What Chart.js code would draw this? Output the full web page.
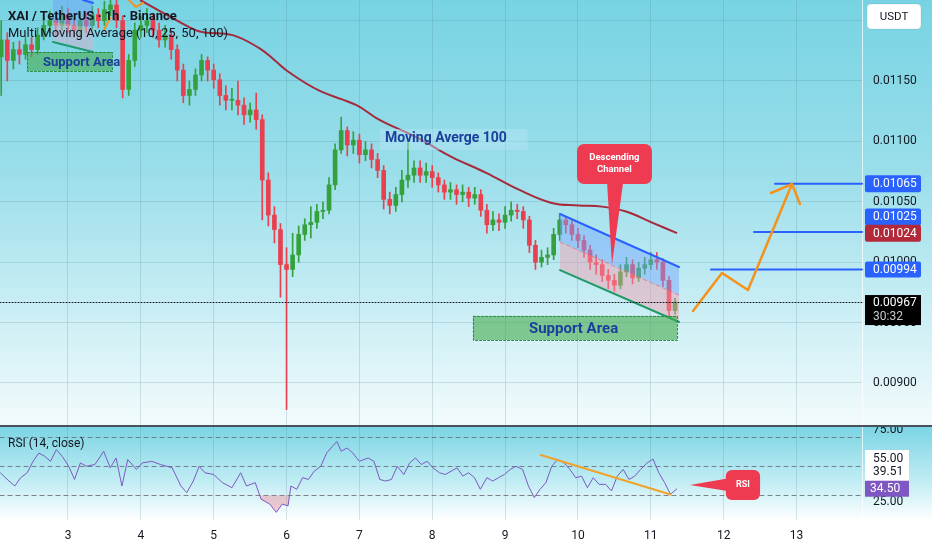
<!DOCTYPE html>
<html>
<head>
<meta charset="utf-8">
<title>XAI / TetherUS 1h</title>
<script src="https://cdn.jsdelivr.net/npm/chart.js@4.4.1/dist/chart.umd.min.js"></script>
<style>
  body { margin: 0; background: #fff; font-family: Roboto, "Liberation Sans", sans-serif; }
  #wrap { position: relative; width: 932px; height: 550px; overflow: hidden; }
  #pricePane { position: absolute; left: 0; top: 0; width: 932px; height: 426px;
    background: linear-gradient(to bottom, #77d3e3 0%, #9adeea 40%, #cdeff5 75%, #f3fbfc 100%); }
  #sep { position: absolute; left: 0; top: 425px; width: 932px; height: 2px; background: #46525c; }
  #rsiPane { position: absolute; left: 0; top: 427px; width: 932px; height: 123px;
    background: linear-gradient(to bottom, #7cd5e4 0%, #c2edf4 45%, #ffffff 76%, #ffffff 100%); }
  .legend { position: absolute; left: 8px; color: #131722; font-size: 13px; line-height: 16px; white-space: nowrap; }
</style>
</head>
<body>
<div id="wrap">
  <div id="pricePane"><canvas id="priceChart" width="932" height="426"></canvas></div>
  <div id="sep"></div>
  <div id="rsiPane"><canvas id="rsiChart" width="932" height="123"></canvas></div>
  <div class="legend" style="top:8px;font-weight:bold">XAI / TetherUS · 1h · Binance</div>
  <div class="legend" style="top:25px">Multi Moving Average (10, 25, 50, 100)</div>
  <div class="legend" style="top:435px;font-size:12px">RSI (14, close)</div>
</div>
<script>
// time axis is day of month, candles are 2h apart
const candleStart = 2 + 1 / 12;
const candleStep = 1 / 12;
const firstOpen = 0.01170;

const closes = [
  0.01184, 0.01167, 0.01176, 0.01172, 0.01180, 0.01176, 0.01188, 0.01196, 0.01200, 0.01196,
  0.01205, 0.01196, 0.01192, 0.01200, 0.01196, 0.01205, 0.01200, 0.01209, 0.01213, 0.01200,
  0.01143, 0.01167, 0.01192, 0.01196, 0.01200, 0.01192, 0.01184, 0.01188, 0.01176, 0.01159,
  0.01138, 0.01143, 0.01155, 0.01167, 0.01159, 0.01151, 0.01138, 0.01134, 0.01134, 0.01130,
  0.01122, 0.01126, 0.01118, 0.01068, 0.01039, 0.01027, 0.00998, 0.00994, 0.01006, 0.01023,
  0.01031, 0.01033, 0.01042, 0.01043, 0.01064, 0.01093, 0.01109, 0.01097, 0.01101, 0.01089,
  0.01093, 0.01085, 0.01076, 0.01052, 0.01047, 0.01056, 0.01068, 0.01072, 0.01078, 0.01072,
  0.01075, 0.01070, 0.01064, 0.01058, 0.01060, 0.01056, 0.01058, 0.01053, 0.01056, 0.01043,
  0.01031, 0.01035, 0.01033, 0.01039, 0.01043, 0.01042, 0.01035, 0.01014, 0.01000, 0.01004,
  0.01006, 0.01023, 0.01035, 0.01031, 0.01023, 0.01018, 0.01010, 0.01000, 0.00998, 0.00989,
  0.00985, 0.00981, 0.00992, 0.00998, 0.00987, 0.00995, 0.00998, 0.01002, 0.01000, 0.00985,
  0.00960, 0.00967
];
const highs = [
  0.01200, 0.01190, 0.01182, 0.01183, 0.01186, 0.01186, 0.01194, 0.01202, 0.01208, 0.01206,
  0.01212, 0.01210, 0.01202, 0.01206, 0.01206, 0.01212, 0.01210, 0.01216, 0.01220, 0.01218,
  0.01204, 0.01172, 0.01198, 0.01204, 0.01210, 0.01206, 0.01198, 0.01196, 0.01192, 0.01180,
  0.01164, 0.01150, 0.01160, 0.01172, 0.01170, 0.01164, 0.01156, 0.01146, 0.01144, 0.01150,
  0.01136, 0.01132, 0.01140, 0.01122, 0.01074, 0.01046, 0.01032, 0.01012, 0.01024, 0.01030,
  0.01036, 0.01046, 0.01048, 0.01050, 0.01070, 0.01098, 0.01120, 0.01112, 0.01108, 0.01106,
  0.01100, 0.01098, 0.01090, 0.01080, 0.01058, 0.01062, 0.01076, 0.01099, 0.01084, 0.01084,
  0.01082, 0.01080, 0.01074, 0.01068, 0.01066, 0.01064, 0.01064, 0.01062, 0.01062, 0.01060,
  0.01048, 0.01042, 0.01040, 0.01046, 0.01050, 0.01048, 0.01046, 0.01038, 0.01018, 0.01010,
  0.01012, 0.01028, 0.01040, 0.01038, 0.01034, 0.01028, 0.01022, 0.01014, 0.01006, 0.01002,
  0.00994, 0.00990, 0.00998, 0.01004, 0.01002, 0.01000, 0.01004, 0.01008, 0.01008, 0.01003,
  0.00988, 0.00970
];
const lows = [
  0.01138, 0.01150, 0.01160, 0.01164, 0.01168, 0.01170, 0.01172, 0.01184, 0.01190, 0.01188,
  0.01192, 0.01190, 0.01186, 0.01188, 0.01190, 0.01192, 0.01194, 0.01196, 0.01204, 0.01194,
  0.01136, 0.01138, 0.01162, 0.01186, 0.01190, 0.01186, 0.01178, 0.01178, 0.01168, 0.01150,
  0.01132, 0.01130, 0.01138, 0.01150, 0.01150, 0.01144, 0.01130, 0.01126, 0.01126, 0.01122,
  0.01114, 0.01116, 0.01110, 0.01035, 0.01030, 0.01016, 0.00971, 0.00878, 0.00988, 0.01000,
  0.01018, 0.01020, 0.01028, 0.01036, 0.01040, 0.01060, 0.01090, 0.01088, 0.01090, 0.01082,
  0.01084, 0.01078, 0.01070, 0.01044, 0.01040, 0.01042, 0.01050, 0.01062, 0.01066, 0.01066,
  0.01066, 0.01062, 0.01058, 0.01052, 0.01052, 0.01048, 0.01050, 0.01046, 0.01048, 0.01038,
  0.01024, 0.01026, 0.01026, 0.01028, 0.01034, 0.01036, 0.01028, 0.01008, 0.00994, 0.00996,
  0.00998, 0.01002, 0.01018, 0.01024, 0.01018, 0.01012, 0.01004, 0.00994, 0.00990, 0.00984,
  0.00978, 0.00976, 0.00978, 0.00988, 0.00982, 0.00984, 0.00990, 0.00994, 0.00994, 0.00980,
  0.00955, 0.00957
];

// MA 100
const maTimes = [3.99, 4.53, 4.81, 5.26, 5.63, 5.84, 6.04, 6.45, 6.96, 7.27, 7.73, 7.92, 8.27, 8.74, 9.19, 9.64, 10.01, 10.33, 10.66, 11.01, 11.36];
const maValues = [0.01217, 0.01199, 0.01191, 0.01188, 0.01177, 0.01167, 0.01157, 0.01142, 0.01130, 0.01118, 0.01105, 0.01099, 0.01087, 0.01074, 0.01060, 0.01049, 0.01047, 0.01046, 0.01042, 0.01033, 0.01024];

// RSI (14)
const rsiTimes = [
  2.07, 2.19, 2.27, 2.35, 2.44, 2.52, 2.60, 2.68, 2.76, 2.84, 2.92, 3.01, 3.09, 3.17, 3.25, 3.37, 3.49, 3.58, 3.66, 3.74,
  3.82, 3.94, 4.02, 4.15, 4.27, 4.43, 4.55, 4.63, 4.72, 4.80, 4.88, 5.00, 5.12, 5.25, 5.37, 5.45, 5.57, 5.65, 5.77, 5.86,
  5.94, 6.02, 6.06, 6.14, 6.22, 6.30, 6.38, 6.47, 6.55, 6.63, 6.69, 6.75, 6.83, 6.91, 7.00, 7.12, 7.20, 7.28, 7.36, 7.44,
  7.52, 7.61, 7.69, 7.77, 7.85, 7.93, 8.01, 8.10, 8.18, 8.26, 8.34, 8.42, 8.50, 8.58, 8.66, 8.75, 8.83, 8.91, 8.99, 9.07,
  9.15, 9.24, 9.32, 9.40, 9.48, 9.56, 9.64, 9.72, 9.81, 9.89, 9.97, 10.05, 10.13, 10.21, 10.29, 10.38, 10.46, 10.54, 10.62, 10.70,
  10.78, 10.86, 10.95, 11.03, 11.11, 11.19, 11.27, 11.36
];
const rsiValues = [
  45.5, 39.8, 36.4, 42.1, 45.5, 53.4, 59.1, 56.9, 53.4, 61.4, 56.9, 50.0, 40.9, 52.3, 50.0, 51.2, 60.3, 48.9, 55.7, 36.4,
  54.6, 47.8, 52.3, 53.4, 51.2, 48.9, 36.4, 31.8, 39.8, 50.0, 45.5, 44.3, 38.7, 35.2, 45.5, 36.4, 38.7, 27.3, 23.9, 18.2,
  23.9, 22.7, 36.4, 34.1, 42.1, 40.9, 46.6, 50.0, 59.1, 63.7, 67.1, 60.3, 62.6, 59.1, 53.4, 55.7, 53.4, 40.9, 39.8, 40.9,
  50.0, 44.3, 52.3, 55.7, 51.2, 53.4, 48.9, 45.5, 44.3, 46.6, 48.9, 43.2, 45.5, 42.1, 34.1, 42.1, 39.8, 42.1, 44.3, 47.8,
  50.0, 47.8, 36.4, 28.4, 34.1, 38.7, 50.0, 54.6, 52.3, 47.8, 42.1, 43.2, 35.2, 42.1, 37.5, 37.5, 33.0, 43.2, 47.8, 40.9,
  43.2, 47.8, 52.3, 55.0, 45.5, 38.7, 30.7, 34.5
];

const dayTicks = [3, 4, 5, 6, 7, 8, 9, 10, 11, 12, 13];
const priceTicks = [0.0090, 0.0095, 0.0100, 0.0105, 0.0110, 0.0115, 0.0120];
const rsiTicks = [25, 75];
const rsiLevels = [70, 50, 30];
const lastPrice = 0.00967;
const ma100Last = 0.01024;
const targetLevels = [0.01065, 0.01025, 0.00994];
const rsiLast = 34.50;
const rsiSecond = 39.51;
const rsiThird = 55.00;

const GREEN = '#35a13d';
const RED = '#e9404f';
const BLUE = '#2962ff';
const ORANGE = '#f5921b';
const CALLOUT = '#ef3b52';
const NOTE_BLUE = '#1b3f9b';
const GRID = 'rgba(80,130,145,0.22)';
const FONT = 'Roboto, "Liberation Sans", sans-serif';

Chart.defaults.font.family = FONT;
Chart.defaults.color = '#131722';

const xMin = 2.0666, xMax = 13.8992;

const candleTimes = closes.map((c, i) => candleStart + i * candleStep);
const opens = closes.map((c, i) => i === 0 ? firstOpen : closes[i - 1]);
const candleColors = closes.map((c, i) => c >= opens[i] ? GREEN : RED);
const bodies = closes.map((c, i) => ({ x: candleTimes[i], y: [opens[i], c] }));
const wicks = closes.map((c, i) => ({ x: candleTimes[i], y: [lows[i], highs[i]] }));
const maPoints = maTimes.map((t, i) => ({ x: t, y: maValues[i] }));
const rsiPoints = rsiTimes.map((t, i) => ({ x: t, y: rsiValues[i] }));

function path(ctx, pts) {
  ctx.beginPath();
  pts.forEach((p, i) => i ? ctx.lineTo(p[0], p[1]) : ctx.moveTo(p[0], p[1]));
}
function fillPoly(ctx, pts, color) {
  path(ctx, pts);
  ctx.closePath();
  ctx.fillStyle = color;
  ctx.fill();
}
function strokePath(ctx, pts, color, width, dash) {
  path(ctx, pts);
  ctx.strokeStyle = color;
  ctx.lineWidth = width;
  ctx.lineJoin = 'round';
  ctx.lineCap = 'round';
  ctx.setLineDash(dash || []);
  ctx.stroke();
  ctx.setLineDash([]);
}
function label(ctx, text, x, y, font, color, align) {
  ctx.font = font;
  ctx.fillStyle = color;
  ctx.textAlign = align || 'center';
  ctx.textBaseline = 'middle';
  ctx.fillText(text, x, y);
}
function supportBox(ctx, x0, y0, x1, y1) {
  ctx.fillStyle = 'rgba(70,172,78,0.6)';
  ctx.fillRect(x0, y0, x1 - x0, y1 - y0);
  ctx.strokeStyle = 'rgba(30,130,50,0.9)';
  ctx.lineWidth = 1;
  ctx.setLineDash([2, 2]);
  ctx.strokeRect(x0 + 0.5, y0 + 0.5, x1 - x0, y1 - y0);
  ctx.setLineDash([]);
}
function axisTag(ctx, x, cy, w, h, bg, text, fg) {
  ctx.fillStyle = bg;
  ctx.beginPath();
  ctx.roundRect(x, cy - h / 2, w, h, 2);
  ctx.fill();
  label(ctx, text, x + 8, cy + 0.5, '12px ' + FONT, fg, 'left');
}
// no label padding around the plot, panes must fill their boxes
function noPad(s) {
  s.paddingTop = 0; s.paddingBottom = 0; s.paddingLeft = 0; s.paddingRight = 0;
}

const priceOverlay = {
  id: 'priceOverlay',
  afterDatasetsDraw(chart) {
    const { ctx, scales: { x, y } } = chart;
    const P = (t, p) => [x.getPixelForValue(t), y.getPixelForValue(p)];
    ctx.save();

    // small channel, top left
    fillPoly(ctx, [P(2.794, 0.01217), P(3.343, 0.01217), P(3.343, 0.011939), P(2.794, 0.011988)], 'rgba(110,160,250,0.45)');
    fillPoly(ctx, [P(2.794, 0.011988), P(3.343, 0.011939), P(3.343, 0.011740), P(2.794, 0.011823)], 'rgba(205,180,205,0.55)');
    strokePath(ctx, [P(2.794, 0.011823), P(3.343, 0.011740)], '#1e9c70', 2);
    strokePath(ctx, [P(3.206, 0.01217), P(3.343, 0.012146)], BLUE, 2);
    strokePath(ctx, [P(3.494, 0.011922), P(3.577, 0.012022)], ORANGE, 2);
    strokePath(ctx, [P(3.837, 0.01217), P(3.933, 0.012113), P(4.030, 0.012146)], ORANGE, 2);

    // support area, top left
    let a = P(2.437, 0.011740), b = P(3.604, 0.011583);
    supportBox(ctx, a[0], a[1], b[0], b[1]);
    let c = P(2.657, 0.011655);
    label(ctx, 'Support Area', c[0], c[1], 'bold 13px ' + FONT, NOTE_BLUE, 'left');

    // descending channel
    const up0 = P(9.754, 0.010399), up1 = P(11.387, 0.009960);
    const md0 = P(9.754, 0.010167), md1 = P(11.387, 0.009728);
    const lo0 = P(9.754, 0.009935), lo1 = P(11.387, 0.009505);
    fillPoly(ctx, [up0, up1, md1, md0], 'rgba(115,165,255,0.45)');
    fillPoly(ctx, [md0, md1, lo1, lo0], 'rgba(245,155,172,0.45)');
    strokePath(ctx, [md0, md1], 'rgba(232,110,130,0.8)', 1, [4, 3]);
    strokePath(ctx, [up0, up1], BLUE, 2);
    strokePath(ctx, [lo0, lo1], '#1f9a66', 2);

    // support area under the channel
    a = P(8.559, 0.009555); b = P(11.360, 0.009356);
    supportBox(ctx, a[0], a[1], b[0], b[1]);
    c = P(9.94, 0.009446);
    label(ctx, 'Support Area', c[0], c[1], 'bold 15px ' + FONT, NOTE_BLUE);

    // callout
    a = P(9.987, 0.010978); b = P(11.016, 0.010647);
    ctx.fillStyle = CALLOUT;
    ctx.beginPath();
    ctx.roundRect(a[0], a[1], b[0] - a[0], b[1] - a[1], 7);
    ctx.fill();
    fillPoly(ctx, [P(10.40, 0.010660), P(10.62, 0.010660), P(10.467, 0.009977)], CALLOUT);
    c = P(10.50, 0.010863);
    label(ctx, 'Descending', c[0], c[1], 'bold 9.5px ' + FONT, '#fff');
    c = P(10.50, 0.010763);
    label(ctx, 'Channel', c[0], c[1], 'bold 9.5px ' + FONT, '#fff');

    // moving average note
    a = P(7.28, 0.011103); b = P(9.31, 0.010929);
    ctx.fillStyle = 'rgba(185,228,245,0.45)';
    ctx.fillRect(a[0], a[1], b[0] - a[0], b[1] - a[1]);
    c = P(7.351, 0.011020);
    label(ctx, 'Moving Averge 100', c[0], c[1], 'bold 14px ' + FONT, NOTE_BLUE, 'left');

    // target levels
    const right = chart.chartArea.right;
    [[12.705, targetLevels[0]], [12.417, targetLevels[1]], [11.826, targetLevels[2]]].forEach(([t, p]) => {
      const s = P(t, p);
      strokePath(ctx, [s, [right, s[1]]], BLUE, 2);
    });

    // projected path
    strokePath(ctx, [P(11.579, 0.009596), P(11.977, 0.009911), P(12.334, 0.009770), P(12.938, 0.010647)], ORANGE, 2.5);
    strokePath(ctx, [P(12.650, 0.010573), P(12.938, 0.010647), P(13.048, 0.010482)], ORANGE, 2.5);

    // last price
    const ly = Math.round(y.getPixelForValue(lastPrice)) + 0.5;
    strokePath(ctx, [[0, ly], [right, ly]], '#131722', 1, [1, 2]);
    ctx.restore();
  },
  afterDraw(chart) {
    const { ctx, scales: { y }, chartArea } = chart;
    const ax = chartArea.right + 3;
    ctx.save();
    axisTag(ctx, ax, y.getPixelForValue(targetLevels[0]), 56, 17, BLUE, '0.01065', '#fff');
    axisTag(ctx, ax, y.getPixelForValue(targetLevels[1]) - 15, 56, 17, BLUE, '0.01025', '#fff');
    axisTag(ctx, ax, y.getPixelForValue(ma100Last), 56, 17, '#b22a3a', '0.01024', '#fff');
    axisTag(ctx, ax, y.getPixelForValue(targetLevels[2]), 56, 16, BLUE, '0.00994', '#fff');
    const top = y.getPixelForValue(lastPrice) - 7;
    ctx.fillStyle = '#000';
    ctx.fillRect(ax, top, 56, 30);
    label(ctx, '0.00967', ax + 8, top + 8, '12px ' + FONT, '#fff', 'left');
    label(ctx, '30:32', ax + 8, top + 22, '12px ' + FONT, '#c8c8c8', 'left');
    // currency box
    ctx.fillStyle = '#fff';
    ctx.strokeStyle = 'rgba(0,0,0,0.08)';
    ctx.beginPath();
    ctx.roundRect(chartArea.right + 5, 4, 54, 25, 4);
    ctx.fill();
    ctx.stroke();
    label(ctx, 'USDT', chartArea.right + 32, 17, '11.5px ' + FONT, '#131722');
    ctx.restore();
  }
};

const rsiOverlay = {
  id: 'rsiOverlay',
  beforeDatasetsDraw(chart) {
    const { ctx, scales: { y }, chartArea } = chart;
    ctx.save();
    rsiLevels.forEach(v => {
      const py = Math.round(y.getPixelForValue(v)) + 0.5;
      strokePath(ctx, [[chartArea.left, py], [chartArea.right, py]], 'rgba(100,110,120,0.85)', 1, [4, 4]);
    });
    ctx.restore();
  },
  afterDatasetsDraw(chart) {
    const { ctx, scales: { x, y } } = chart;
    const P = (t, v) => [x.getPixelForValue(t), y.getPixelForValue(v)];
    ctx.save();
    strokePath(ctx, [P(9.49, 57.8), P(11.27, 30.5)], '#f0a22a', 2);
    const a = P(12.03, 47.4), b = P(12.50, 26.7);
    ctx.fillStyle = CALLOUT;
    ctx.beginPath();
    ctx.roundRect(a[0], a[1], b[0] - a[0], b[1] - a[1], 6);
    ctx.fill();
    fillPoly(ctx, [P(12.05, 41.5), P(12.05, 33.0), P(11.538, 37.1)], CALLOUT);
    const c = P(12.265, 37.1);
    label(ctx, 'RSI', c[0], c[1], 'bold 9px ' + FONT, '#fff');
    ctx.restore();
  },
  afterDraw(chart) {
    const { ctx, scales: { y }, chartArea } = chart;
    const ax = chartArea.right + 3;
    ctx.save();
    const y55 = y.getPixelForValue(rsiThird);
    ctx.fillStyle = '#fff';
    ctx.fillRect(ax, y55 - 9, 44, 36);
    label(ctx, rsiThird.toFixed(2), chartArea.right + 11, y55, '12px ' + FONT, '#131722', 'left');
    label(ctx, rsiSecond.toFixed(2), chartArea.right + 11, y.getPixelForValue(rsiSecond) - 9, '12px ' + FONT, '#131722', 'left');
    const yl = y.getPixelForValue(rsiLast);
    ctx.fillStyle = '#7e57c2';
    ctx.fillRect(ax, yl - 8, 44, 16);
    label(ctx, rsiLast.toFixed(2), chartArea.right + 8, yl + 0.5, '12px ' + FONT, '#fff', 'left');
    ctx.restore();
  }
};

const dayAxis = (showLabels) => ({
  type: 'linear',
  min: xMin,
  max: xMax,
  offset: false,
  afterBuildTicks: s => { s.ticks = dayTicks.map(v => ({ value: v })); },
  afterFit: s => { s.height = showLabels ? 30 : 0; noPad(s); },
  grid: { color: GRID, drawTicks: false, offset: false },
  border: { display: false },
  ticks: { display: showLabels, padding: 9, font: { size: 12 }, color: '#131722', maxRotation: 0, callback: v => String(v) }
});

new Chart(document.getElementById('priceChart'), {
  type: 'bar',
  data: {
    datasets: [
      { type: 'line', data: maPoints, borderColor: '#a52a3c', borderWidth: 2, pointRadius: 0, tension: 0.4, order: 0 },
      { data: bodies, backgroundColor: candleColors, barThickness: 4, minBarLength: 1, grouped: false, borderWidth: 0, order: 1 },
      { data: wicks, backgroundColor: candleColors, barThickness: 1, grouped: false, borderWidth: 0, order: 2 }
    ]
  },
  options: {
    responsive: false,
    animation: false,
    events: [],
    layout: { padding: 0 },
    plugins: { legend: { display: false }, tooltip: { enabled: false } },
    scales: {
      x: dayAxis(false),
      y: {
        position: 'right',
        min: 0.008644,
        max: 0.0121705,
        beginAtZero: false,
        afterBuildTicks: s => { s.ticks = priceTicks.map(v => ({ value: v })); },
        afterFit: s => { s.width = 70; noPad(s); },
        grid: { color: GRID, drawTicks: false },
        border: { display: true, color: 'rgba(255,255,255,0.7)' },
        ticks: { padding: 11, font: { size: 12 }, color: '#131722', callback: v => v >= 0.0118 ? '' : v.toFixed(5) }
      }
    }
  },
  plugins: [priceOverlay]
});

new Chart(document.getElementById('rsiChart'), {
  type: 'line',
  data: {
    datasets: [{
      data: rsiPoints,
      borderColor: '#7e57c2',
      borderWidth: 1,
      pointRadius: 0,
      tension: 0,
      fill: { target: { value: 30 }, above: 'rgba(0,0,0,0)', below: 'rgba(242,110,125,0.35)' }
    }]
  },
  options: {
    responsive: false,
    animation: false,
    events: [],
    layout: { padding: 0 },
    plugins: { legend: { display: false }, tooltip: { enabled: false } },
    scales: {
      x: dayAxis(true),
      y: {
        position: 'right',
        min: 12.93,
        max: 77.07,
        afterBuildTicks: s => { s.ticks = rsiTicks.map(v => ({ value: v })); },
        afterFit: s => { s.width = 70; noPad(s); },
        grid: { display: false, drawTicks: false },
        border: { display: true, color: 'rgba(255,255,255,0.7)' },
        ticks: { padding: 11, font: { size: 12 }, color: '#131722', callback: v => v.toFixed(2) }
      }
    }
  },
  plugins: [rsiOverlay]
});
</script>
</body>
</html>
